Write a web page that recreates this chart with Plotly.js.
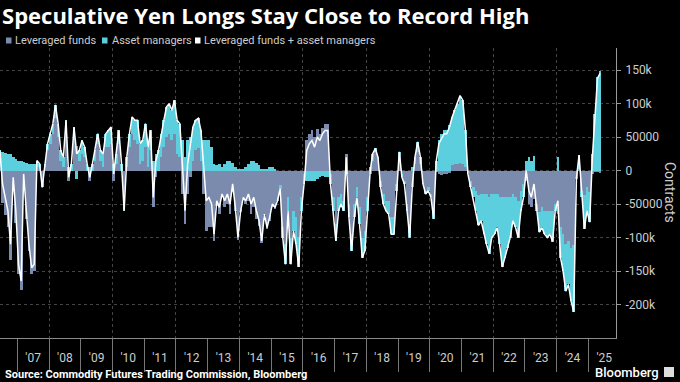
<!DOCTYPE html>
<html><head><meta charset="utf-8">
<script src="https://cdn.plot.ly/plotly-3.0.1.min.js"></script>
<style>html,body{margin:0;padding:0;background:#000;} #chart{width:680px;height:382px;}</style>
</head><body><div id="chart"></div>
<script>
// Weekly CFTC positioning, sampled monthly (thousands of contracts, net)
const months = [
"2006-06-15","2006-07-15","2006-08-15","2006-09-15","2006-10-15","2006-11-15","2006-12-15",
"2007-01-15","2007-02-15","2007-03-15","2007-04-15","2007-05-15","2007-06-15","2007-07-15","2007-08-15","2007-09-15","2007-10-15","2007-11-15","2007-12-15",
"2008-01-15","2008-02-15","2008-03-15","2008-04-15","2008-05-15","2008-06-15","2008-07-15","2008-08-15","2008-09-15","2008-10-15","2008-11-15","2008-12-15",
"2009-01-15","2009-02-15","2009-03-15","2009-04-15","2009-05-15","2009-06-15","2009-07-15","2009-08-15","2009-09-15","2009-10-15","2009-11-15","2009-12-15",
"2010-01-15","2010-02-15","2010-03-15","2010-04-15","2010-05-15","2010-06-15","2010-07-15","2010-08-15","2010-09-15","2010-10-15","2010-11-15","2010-12-15",
"2011-01-15","2011-02-15","2011-03-15","2011-04-15","2011-05-15","2011-06-15","2011-07-15","2011-08-15","2011-09-15","2011-10-15","2011-11-15","2011-12-15",
"2012-01-15","2012-02-15","2012-03-15","2012-04-15","2012-05-15","2012-06-15","2012-07-15","2012-08-15","2012-09-15","2012-10-15","2012-11-15","2012-12-15",
"2013-01-15","2013-02-15","2013-03-15","2013-04-15","2013-05-15","2013-06-15","2013-07-15","2013-08-15","2013-09-15","2013-10-15","2013-11-15","2013-12-15",
"2014-01-15","2014-02-15","2014-03-15","2014-04-15","2014-05-15","2014-06-15","2014-07-15","2014-08-15","2014-09-15","2014-10-15","2014-11-15","2014-12-15",
"2015-01-15","2015-02-15","2015-03-15","2015-04-15","2015-05-15","2015-06-15","2015-07-15","2015-08-15","2015-09-15","2015-10-15","2015-11-15","2015-12-15",
"2016-01-15","2016-02-15","2016-03-15","2016-04-15","2016-05-15","2016-06-15","2016-07-15","2016-08-15","2016-09-15","2016-10-15","2016-11-15","2016-12-15",
"2017-01-15","2017-02-15","2017-03-15","2017-04-15","2017-05-15","2017-06-15","2017-07-15","2017-08-15","2017-09-15","2017-10-15","2017-11-15","2017-12-15",
"2018-01-15","2018-02-15","2018-03-15","2018-04-15","2018-05-15","2018-06-15","2018-07-15","2018-08-15","2018-09-15","2018-10-15","2018-11-15","2018-12-15",
"2019-01-15","2019-02-15","2019-03-15","2019-04-15","2019-05-15","2019-06-15","2019-07-15","2019-08-15","2019-09-15","2019-10-15","2019-11-15","2019-12-15",
"2020-01-15","2020-02-15","2020-03-15","2020-04-15","2020-05-15","2020-06-15","2020-07-15","2020-08-15","2020-09-15","2020-10-15","2020-11-15","2020-12-15",
"2021-01-15","2021-02-15","2021-03-15","2021-04-15","2021-05-15","2021-06-15","2021-07-15","2021-08-15","2021-09-15","2021-10-15","2021-11-15","2021-12-15",
"2022-01-15","2022-02-15","2022-03-15","2022-04-15","2022-05-15","2022-06-15","2022-07-15","2022-08-15","2022-09-15","2022-10-15","2022-11-15","2022-12-15",
"2023-01-15","2023-02-15","2023-03-15","2023-04-15","2023-05-15","2023-06-15","2023-07-15","2023-08-15","2023-09-15","2023-10-15","2023-11-15","2023-12-15",
"2024-01-15","2024-02-15","2024-03-15","2024-04-15","2024-05-15","2024-06-15","2024-07-15","2024-08-15","2024-09-15","2024-10-15","2024-11-15","2024-12-15",
"2025-01-15","2025-02-15","2025-03-15","2025-04-15","2025-05-15"
];

const leveragedFunds = [
5,-48,-66,-85,-134,-30,-78,
-155,-179,-18,-72,-120,-155,-150,5,5,-20,5,30,
40,55,78,50,15,5,55,-15,0,45,37,15,
25,20,0,-15,0,15,40,15,5,35,35,40,
-15,10,40,0,-55,5,35,55,45,40,10,15,
35,5,30,-55,-10,0,20,35,50,55,45,55,
25,20,-35,-80,-35,-10,15,30,33,15,-35,-90,
-85,-85,-105,-53,-65,-40,-55,-50,-65,-32,-60,-103,
-62,-43,-50,-45,-65,-55,-72,-83,-108,-67,-87,-75,
-55,-57,-45,-22,-85,-110,-40,-100,-60,-70,-99,-40,
-5,45,55,60,50,62,55,63,70,70,-5,-40,
-80,-40,-35,-45,25,-50,-95,-50,-25,-55,-100,-90,
-40,-5,15,28,20,-15,-35,-45,-45,-70,-70,-20,
23,-5,-15,-50,-80,-25,10,28,10,-20,-30,-25,
-35,-62,-2,-5,-7,-5,-5,-3,8,10,10,12,
10,5,-5,-15,-25,-30,-37,-35,-35,-35,-39,-35,
-35,-35,-40,-39,-40,-40,-40,-35,-40,-45,-30,-20,
-15,-50,-55,-42,-50,-62,-55,-60,-60,-60,-61,-50,
-65,-85,-95,-110,-105,-115,-111,-12,3,-30,-37,-25,
-32,-5,-2,-2,-3
];

const assetManagers = [
25,28,26,25,24,20,18,
15,14,13,12,10,10,10,10,5,-5,5,10,
15,15,20,20,15,15,20,5,10,20,-12,15,
20,15,10,5,10,15,15,15,20,20,25,25,
10,15,20,10,-5,15,20,25,30,35,30,30,
35,30,30,15,25,30,35,40,45,45,45,50,
50,50,45,20,45,50,50,45,45,45,45,45,
45,35,10,8,10,5,10,15,15,12,5,3,
2,3,5,10,15,15,12,8,3,2,2,5,
5,2,0,-5,-15,-30,-20,-40,-30,-40,-45,-20,
-15,-15,-15,-15,-15,-12,-10,-8,-10,-10,-15,-20,
-25,-20,-15,-15,-5,-20,-25,-20,-15,-25,-30,-30,
-20,5,10,5,0,-10,-15,-15,-20,-25,-25,-10,
5,-5,-5,-10,-20,5,10,15,10,0,-5,-5,
-5,-10,15,45,55,60,60,68,72,80,90,100,
95,55,0,-10,-15,-30,-45,-40,-60,-75,-85,-65,
-60,-50,-70,-105,-90,-75,-60,-40,-45,-55,-30,-20,
15,20,15,22,-10,-30,-30,-35,-40,-35,-45,-10,
20,-45,-55,-70,-65,-80,-100,0,20,-10,-50,-35,
-45,25,85,140,148
];

const yearLabels = ["'07","'08","'09","'10","'11","'12","'13","'14","'15","'16","'17","'18","'19","'20","'21","'22","'23","'24","'25"];
const yearMids = ["2007-07-02","2008-07-02","2009-07-02","2010-07-02","2011-07-02","2012-07-02","2013-07-02","2014-07-02","2015-07-02","2016-07-02","2017-07-02","2018-07-02","2019-07-02","2020-07-02","2021-07-02","2022-07-02","2023-07-02","2024-07-02","2025-07-02"];
const yTickVals = [150,100,50,0,-50,-100,-150,-200];
const yTickText = ["150k","100k","50000","0","-50000","-100k","-150k","-200k"];

const combined = leveragedFunds.map((v, i) => v + assetManagers[i]);

const C_LF = '#7b8bae', C_AM = '#5ccfdf', C_TXT = '#cdcdcd';
const FONT = 'Roboto, "Open Sans", sans-serif';
const TITLE_FONT = '"Open Sans", Roboto, sans-serif';
const xRange = ['2006-06-16', '2025-11-14'];
const monthWidth = 31 * 86400000;

const traces = [
  {type: 'bar', name: 'Leveraged funds', x: months, y: leveragedFunds, width: monthWidth,
   marker: {color: C_LF, line: {width: 0}}, showlegend: false, hoverinfo: 'skip'},
  {type: 'bar', name: 'Asset managers', x: months, y: assetManagers, width: monthWidth,
   marker: {color: C_AM, line: {width: 0}}, showlegend: false, hoverinfo: 'skip'},
  {type: 'scatter', mode: 'lines', name: 'Leveraged funds + asset managers', x: months, y: combined,
   xaxis: 'x2', yaxis: 'y', line: {color: '#ffffff', width: 1.5}, showlegend: false, hoverinfo: 'skip'}
];

const W = 616, PT = 48, PB = 338, PH = PB - PT;
const px = v => v / W;
const py = v => (PB - v) / PH;

const legendItems = [
  {label: 'Leveraged funds', color: C_LF, sq: 6, tx: 13},
  {label: 'Asset managers', color: C_AM, sq: 102, tx: 110},
  {label: 'Leveraged funds + asset managers', color: '#ffffff', sq: 195, tx: 202}
];

const annotations = legendItems.map(it => ({
  text: it.label, xref: 'paper', yref: 'paper', x: px(it.tx), y: py(40.5),
  xanchor: 'left', yanchor: 'middle', showarrow: false,
  font: {family: FONT, size: 11, color: C_TXT}
}));
annotations.push(
  {text: 'Contracts', xref: 'paper', yref: 'paper', x: px(670), y: py(193), textangle: 90,
   xanchor: 'center', yanchor: 'middle', showarrow: false, font: {family: FONT, size: 14, color: C_TXT}},
  {text: 'Source: Commodity Futures Trading Commission, Bloomberg', xref: 'paper', yref: 'paper',
   x: px(3), y: py(374), xanchor: 'left', yanchor: 'middle', showarrow: false,
   font: {family: FONT, size: 11, color: '#ffffff', weight: 'bold'}},
  {text: 'Bloomberg', xref: 'paper', yref: 'paper', x: px(661), y: py(372), xanchor: 'right', yanchor: 'middle',
   showarrow: false, font: {family: FONT, size: 13, color: '#ffffff', weight: 500}}
);

const shapes = legendItems.map(it => ({
  type: 'rect', xref: 'paper', yref: 'paper', x0: px(it.sq), x1: px(it.sq + 5.5),
  y0: py(43.5), y1: py(37.5), fillcolor: it.color, line: {width: 0}
}));
shapes.push({type: 'rect', xref: 'paper', yref: 'paper', x0: px(664), x1: px(674), y0: py(377), y1: py(367),
  fillcolor: '#dddddd', line: {width: 0}});

const layout = {
  width: 680, height: 382,
  paper_bgcolor: '#000', plot_bgcolor: '#000',
  margin: {l: 0, r: 64, t: PT, b: 382 - PB},
  barmode: 'relative', bargap: 0,
  title: {text: 'Speculative Yen Longs Stay Close to Record High', xref: 'container', yref: 'container',
    x: 0.003, xanchor: 'left', y: 1 - 16 / 382, yanchor: 'middle',
    font: {family: TITLE_FONT, size: 22, color: '#ffffff', weight: 'bold'}},
  xaxis: {type: 'date', range: xRange, tickvals: yearMids, ticktext: yearLabels, ticks: '',
    showgrid: false, zeroline: false, showline: true, linecolor: '#8a8a8a', linewidth: 1,
    tickfont: {family: FONT, size: 12, color: C_TXT}, ticklabelstandoff: 9, fixedrange: true},
  xaxis2: {type: 'date', range: xRange, overlaying: 'x', anchor: 'y', side: 'bottom',
    tick0: '2008-01-01', dtick: 'M24', showticklabels: false,
    ticks: 'outside', ticklen: 33, tickcolor: '#777', tickwidth: 1,
    showgrid: true, gridcolor: '#444', griddash: 'dot', gridwidth: 1, zeroline: false, showline: false,
    minor: {tick0: '2007-01-01', dtick: 'M12', ticks: 'outside', ticklen: 33, tickcolor: '#777', showgrid: false}},
  yaxis: {range: [-250, 183], side: 'right', tickvals: yTickVals, ticktext: yTickText,
    ticks: 'outside', ticklen: 4, tickcolor: '#9a9a9a', showline: true, linecolor: '#9a9a9a', linewidth: 1,
    showgrid: true, gridcolor: '#444', griddash: 'dot', zeroline: false,
    tickfont: {family: FONT, size: 12, color: C_TXT}, ticklabelstandoff: 2, fixedrange: true},
  annotations: annotations,
  shapes: shapes,
  showlegend: false
};

Plotly.newPlot('chart', traces, layout, {staticPlot: true, displayModeBar: false});
</script>
</body></html>
